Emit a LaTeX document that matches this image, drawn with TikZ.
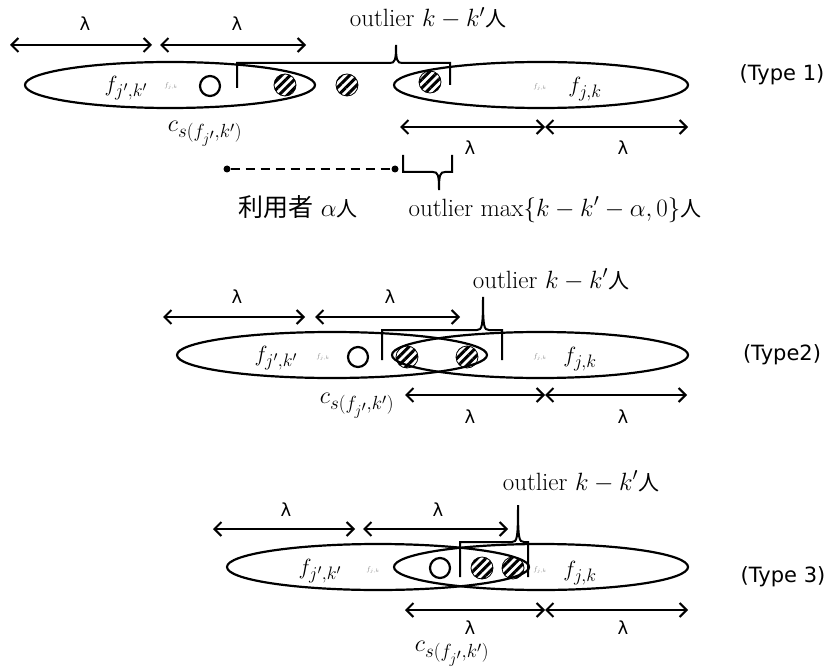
\RequirePackage{fix-cm}
\documentclass[tikz,border=0pt]{standalone}
\usepackage{fontspec}
\newfontfamily\cjk{Noto Sans CJK JP}
\newfontfamily\sansf{DejaVu Sans}
\newcommand\myren{{\cjk\fontsize{21}{24}\selectfont 人}}
\DeclareMathSizes{22}{22}{18}{14}
\DeclareMathSizes{24}{24}{19}{15}
\DeclareMathSizes{25}{25}{18}{14}
\usetikzlibrary{shapes.geometric,arrows.meta,patterns.meta}
\begin{document}
\begin{tikzpicture}[x=1pt,y=-1pt,
  ell/.style={ellipse, draw, line width=2.2pt, inner sep=0pt, minimum height=46pt},
  dimarrow/.style={line width=2pt, {Straight Barb[length=7pt,width=14pt,line width=2pt]}-{Straight Barb[length=7pt,width=14pt,line width=2pt]}},
  hatchc/.style={circle, draw, line width=0.8pt, minimum size=22pt, inner sep=0pt, pattern={Lines[angle=45,distance=6pt,line width=3pt]}},
  ring/.style={circle, draw, line width=2.2pt, minimum size=20pt, inner sep=0pt},
  bracepath/.style={line width=2pt},
  lam/.style={font=\sansf\fontsize{18}{20}\selectfont},
  lbl/.style={font=\fontsize{25}{28}\selectfont, anchor=base, inner sep=1pt},
  fl/.style={font=\fontsize{22}{26}\selectfont},
  cl/.style={font=\fontsize{24}{28}\selectfont, inner sep=1pt},
  tinyf/.style={font=\fontsize{7}{8}\selectfont, text=black!45},
  typ/.style={font=\sansf\fontsize{21}{24}\selectfont},
  dot/.style={circle, fill, inner sep=0pt, minimum size=7pt}
]
\useasboundingbox (0,0) rectangle (832,671);

% ---------------- Type 1 ----------------
\node[ell, minimum width=290pt] (E1L) at (170,85) {};
\node[ell, minimum width=294pt] (E1R) at (541,85) {};
\node[fl] (F1L) at (126,88) {$f_{j',k'}$};
\node[tinyf] (t1a) at (171,86) {$f_{j,k}$};
\node[ring] (R1) at (210,86) {};
\node[hatchc] (H1a) at (285,85) {};
\node[hatchc] (H1b) at (347,85) {};
\node[hatchc] (H1c) at (430,82) {};
\node[fl] (F1R) at (585,89) {$f_{j,k}$};
\node[tinyf] (t1b) at (540,87) {$f_{j,k}$};
\node[cl] (C1) at (205,134) {$c_{s(f_{j'},k')}$};
\node[typ] (T1) at (782,75) {(Type 1)};

\coordinate (a1) at (10,45); \coordinate (a2) at (152,45);
\coordinate (a3) at (160,45); \coordinate (a4) at (306,45);
\draw[dimarrow] (a1) -- (a2);
\draw[dimarrow] (a3) -- (a4);
\node[lam] (L1a) at (85,24) {λ};
\node[lam] (L1b) at (237,24) {λ};

\coordinate (b1) at (400,127); \coordinate (b2) at (545,127); \coordinate (b3) at (688,127);
\draw[dimarrow] (b1) -- (b2);
\draw[dimarrow] (b2) -- (b3);
\node[lam] (L1c) at (470,148) {λ};
\node[lam] (L1d) at (623,148) {λ};

\draw[bracepath] (237,88) -- (237,63) -- (390,63) .. controls (395,63) and (396,60) .. (396,45)
  .. controls (396,60) and (397,63) .. (402,63) -- (450,63) -- (450,85);
\node[lbl] (O1) at (428,27) {outlier $k-k'$\myren};

\node[dot] (d1) at (227,169) {};
\node[dot] (d2) at (395,169) {};
\draw[line width=2pt, dash pattern=on 9pt off 6pt] (d1) -- (d2);
\draw[bracepath] (403,155) -- (403,172) -- (433,172) .. controls (438,172) and (439,175) .. (439,190)
  .. controls (439,175) and (440,172) .. (445,172) -- (452,172) -- (452,155);
\node[lbl] (U1) at (298,216) {{\cjk 利用者} $\alpha$\myren};
\node[lbl] (O1b) at (555,216) {outlier $\max\{k-k'-\alpha,0\}$\myren};

% ---------------- Type 2 ----------------
\node[ell, minimum width=310pt] (E2L) at (332,355) {};
\node[ell, minimum width=296pt] (E2R) at (540,355) {};
\node[fl] (F2L) at (276,358) {$f_{j',k'}$};
\node[tinyf] (t2a) at (323,357) {$f_{j,k}$};
\node[ring] (R2) at (358,357) {};
\node[hatchc] (H2a) at (407,357) {};
\node[hatchc] (H2b) at (467,357) {};
\node[fl] (F2R) at (580,359) {$f_{j,k}$};
\node[tinyf] (t2b) at (540,357) {$f_{j,k}$};
\node[cl] (C2) at (357,406) {$c_{s(f_{j'},k')}$};
\node[typ] (T2) at (782,355) {(Type2)};

\coordinate (c1) at (163,317); \coordinate (c2) at (305,317);
\coordinate (c3) at (315,317); \coordinate (c4) at (460,317);
\draw[dimarrow] (c1) -- (c2);
\draw[dimarrow] (c3) -- (c4);
\node[lam] (L2a) at (237,297) {λ};
\node[lam] (L2b) at (390,297) {λ};

\coordinate (e1) at (405,395); \coordinate (e2) at (545,395); \coordinate (e3) at (687,395);
\draw[dimarrow] (e1) -- (e2);
\draw[dimarrow] (e2) -- (e3);
\node[lam] (L2c) at (470,417) {λ};
\node[lam] (L2d) at (623,417) {λ};

\draw[bracepath] (382,360) -- (382,330) -- (477,330) .. controls (482,330) and (483,327) .. (483,297)
  .. controls (483,327) and (484,330) .. (489,330) -- (502,330) -- (502,360);
\node[lbl] (O2) at (551,288) {outlier $k-k'$\myren};

% ---------------- Type 3 ----------------
\node[ell, minimum width=302pt] (E3L) at (378,567) {};
\node[ell, minimum width=294pt] (E3R) at (541,567) {};
\node[fl] (F3L) at (320,571) {$f_{j',k'}$};
\node[tinyf] (t3a) at (373,570) {$f_{j,k}$};
\node[ring] (R3) at (440,568) {};
\node[hatchc] (H3a) at (482,568) {};
\node[hatchc] (H3b) at (513,568) {};
\node[fl] (F3R) at (580,573) {$f_{j,k}$};
\node[tinyf] (t3b) at (540,570) {$f_{j,k}$};
\node[cl] (C3) at (452,654) {$c_{s(f_{j'},k')}$};
\node[typ] (T3) at (783,577) {(Type 3)};

\coordinate (g1) at (213,529); \coordinate (g2) at (355,529);
\coordinate (g3) at (363,529); \coordinate (g4) at (508,529);
\draw[dimarrow] (g1) -- (g2);
\draw[dimarrow] (g3) -- (g4);
\node[lam] (L3a) at (286,510) {λ};
\node[lam] (L3b) at (438,510) {λ};

\coordinate (h1) at (405,610); \coordinate (h2) at (545,610); \coordinate (h3) at (688,610);
\draw[dimarrow] (h1) -- (h2);
\draw[dimarrow] (h2) -- (h3);
\node[lam] (L3c) at (470,628) {λ};
\node[lam] (L3d) at (623,628) {λ};

\draw[bracepath] (460,577) -- (460,542) -- (512,542) .. controls (517,542) and (518,539) .. (518,505)
  .. controls (518,539) and (519,542) .. (524,542) -- (528,542) -- (528,577);
\node[lbl] (O3) at (581,490) {outlier $k-k'$\myren};
\end{tikzpicture}
\end{document}
